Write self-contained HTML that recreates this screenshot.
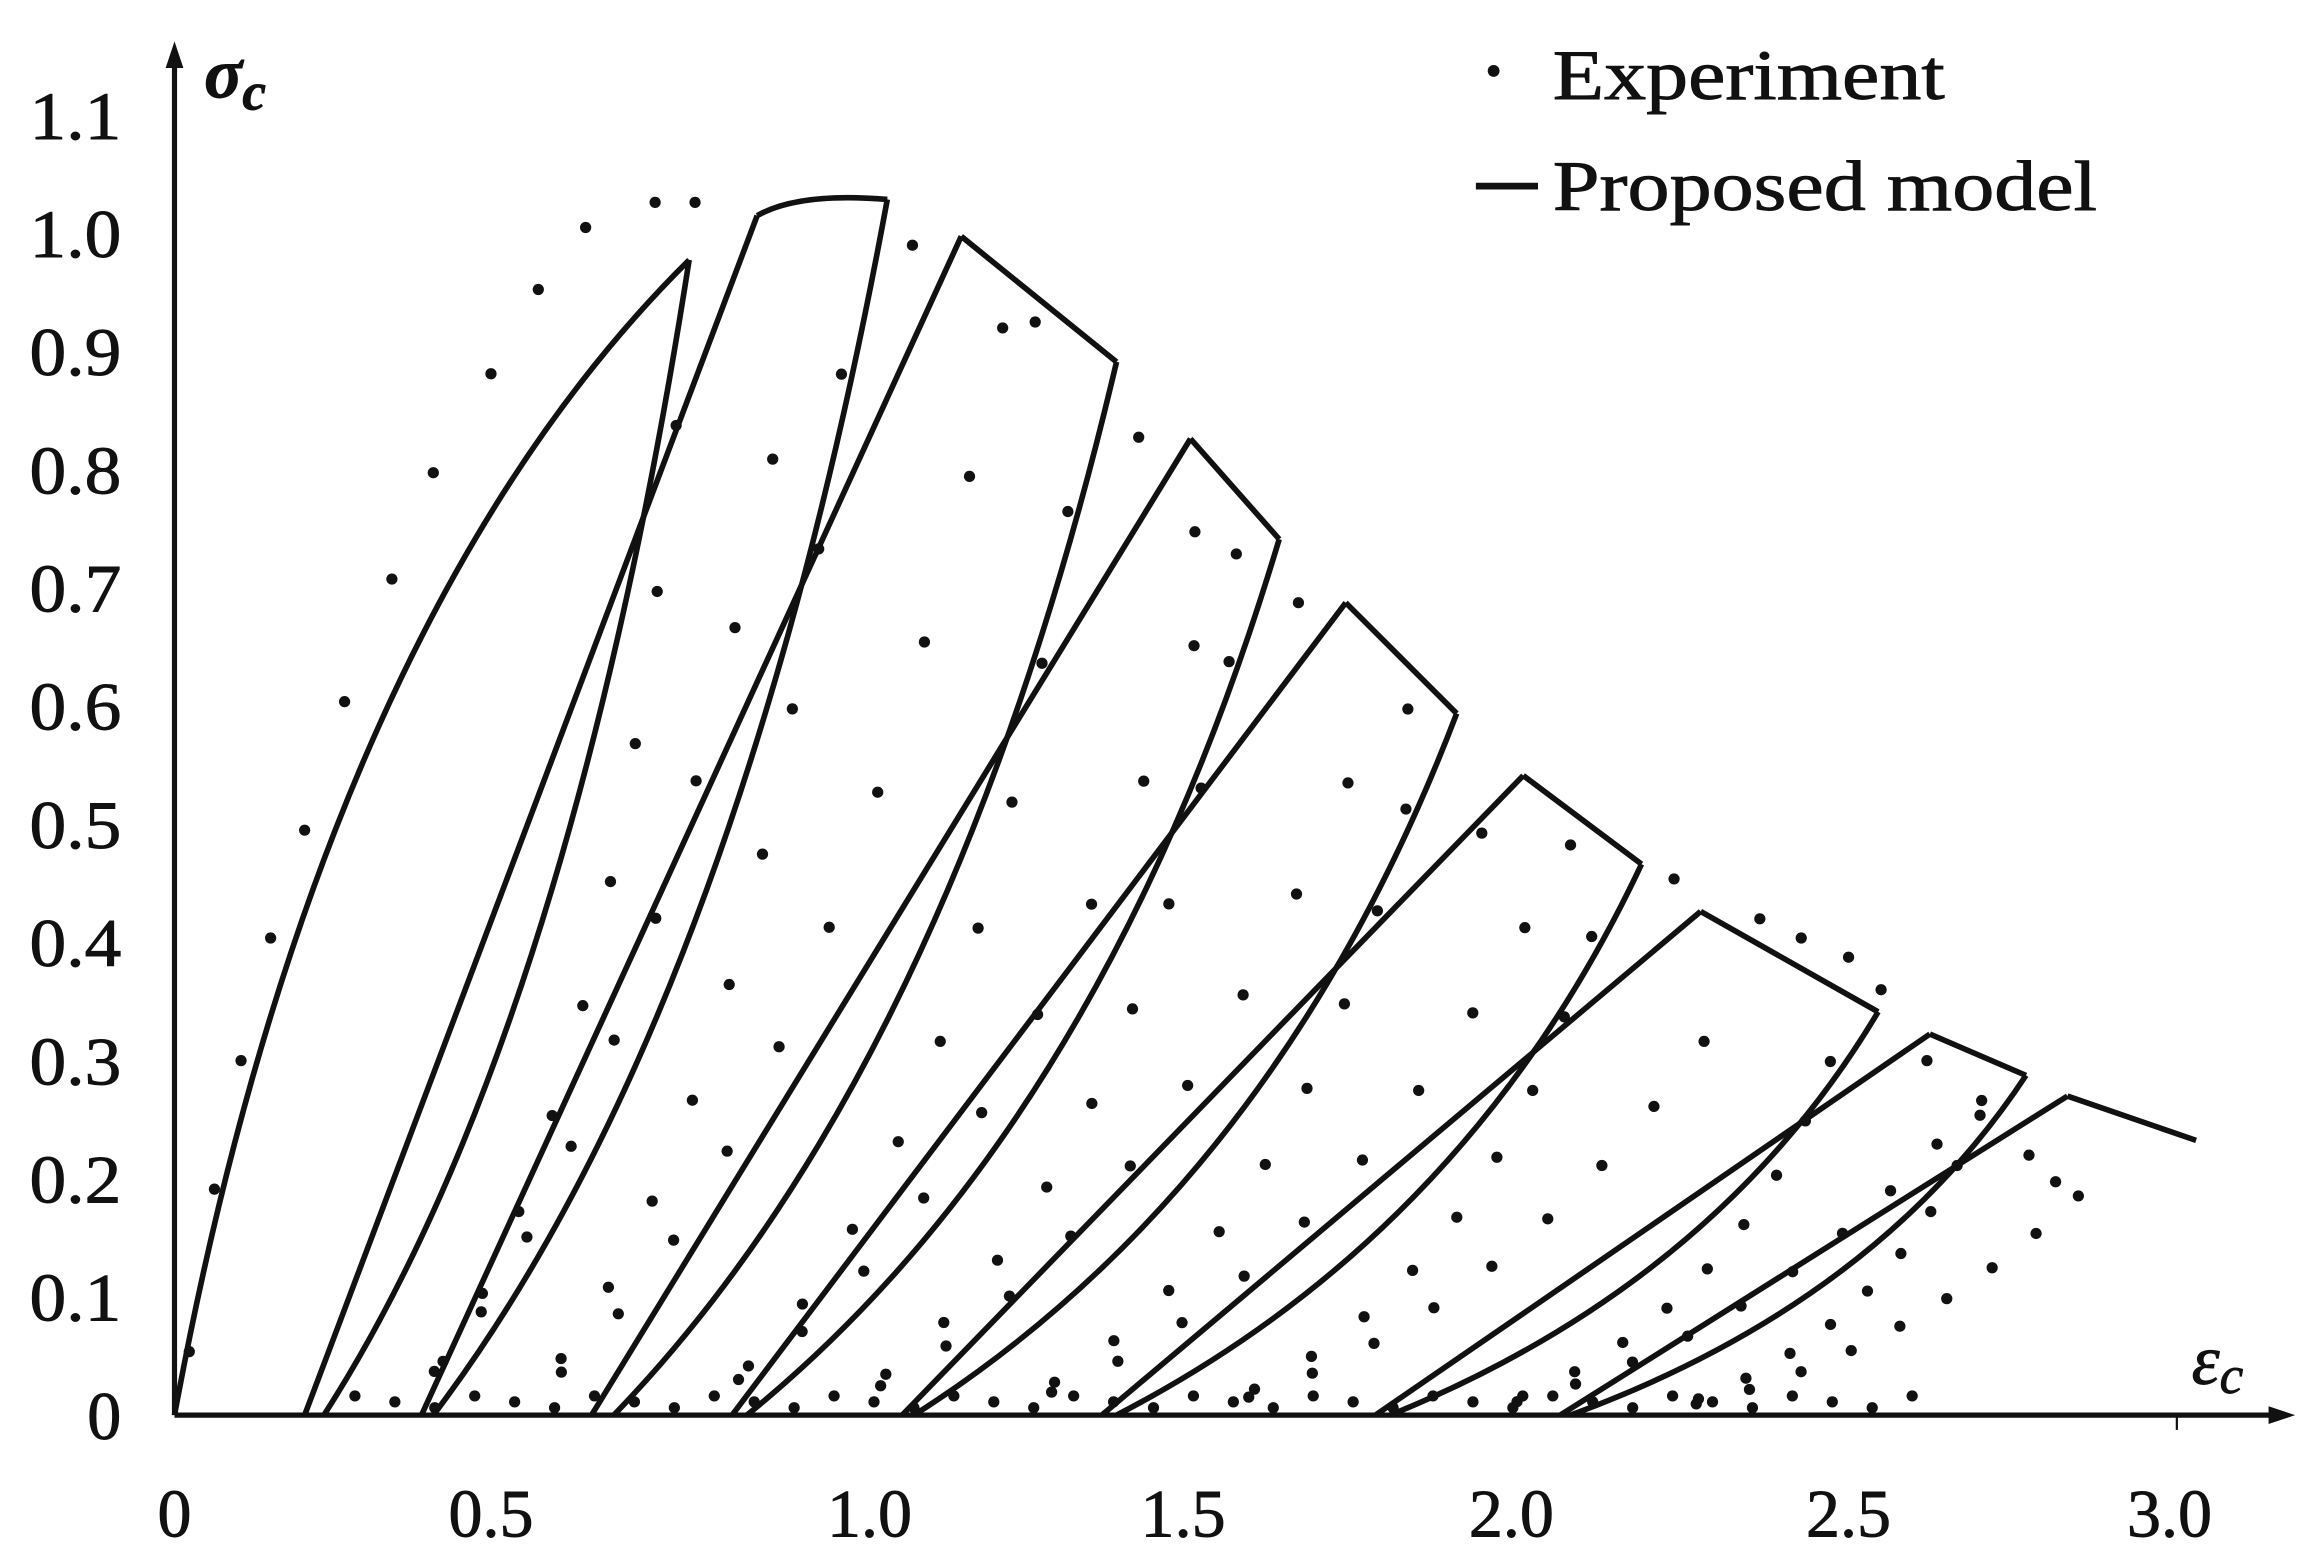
<!DOCTYPE html>
<html><head><meta charset="utf-8"><style>
html,body{margin:0;padding:0;background:#fff;}
svg{display:block;}
text{font-family:"Liberation Serif",serif;fill:#111;stroke:#111;stroke-width:0.6;}
</style></head><body>
<svg id="s" width="2307" height="1554" viewBox="0 0 1560 1052" preserveAspectRatio="none" xmlns="http://www.w3.org/2000/svg">
<rect width="1560" height="1052" fill="#fff"/>
<g stroke="#111" stroke-width="3.5" fill="none">
<line x1="118" y1="958" x2="118" y2="38"/>
<line x1="118" y1="958" x2="1540" y2="958"/>
<line x1="1472" y1="958" x2="1472" y2="968" stroke-width="1.5"/>
</g>
<polygon points="118,28 112,46 124,46" fill="#111"/>
<polygon points="1552,958 1534,952 1534,964" fill="#111"/>
<g id="curves" stroke="#111" stroke-width="3.8" fill="none" stroke-linejoin="round"></g>
<g id="dots" fill="#111"></g>
<g font-size="46" text-anchor="end">
<text x="82" y="94" textLength="62" lengthAdjust="spacingAndGlyphs">1.1</text><text x="82" y="174" textLength="62" lengthAdjust="spacingAndGlyphs">1.0</text><text x="82" y="254" textLength="62" lengthAdjust="spacingAndGlyphs">0.9</text>
<text x="82" y="334" textLength="62" lengthAdjust="spacingAndGlyphs">0.8</text><text x="82" y="414" textLength="62" lengthAdjust="spacingAndGlyphs">0.7</text><text x="82" y="494" textLength="62" lengthAdjust="spacingAndGlyphs">0.6</text>
<text x="82" y="574" textLength="62" lengthAdjust="spacingAndGlyphs">0.5</text><text x="82" y="654" textLength="62" lengthAdjust="spacingAndGlyphs">0.4</text><text x="82" y="734" textLength="62" lengthAdjust="spacingAndGlyphs">0.3</text>
<text x="82" y="814" textLength="62" lengthAdjust="spacingAndGlyphs">0.2</text><text x="82" y="894" textLength="62" lengthAdjust="spacingAndGlyphs">0.1</text><text x="82" y="974">0</text>
</g>
<g font-size="46" text-anchor="middle">
<text x="118" y="1040">0</text><text x="332" y="1040">0.5</text><text x="588" y="1040">1.0</text>
<text x="800" y="1040">1.5</text><text x="1022" y="1040">2.0</text><text x="1250" y="1040">2.5</text>
<text x="1467" y="1040">3.0</text>
</g>
<text x="138" y="66" font-size="48" font-style="italic" font-weight="bold">σ<tspan font-size="36" dy="8">c</tspan></text>
<text x="1482" y="937" font-size="48" font-style="italic">ε<tspan font-size="36" dy="6">c</tspan></text>
<circle cx="1010" cy="48" r="4" fill="#111"/>
<text x="1050" y="67" font-size="48" textLength="265" lengthAdjust="spacingAndGlyphs">Experiment</text>
<line x1="998" y1="126" x2="1040" y2="126" stroke="#111" stroke-width="4.5"/>
<text x="1050" y="142" font-size="48" textLength="368" lengthAdjust="spacingAndGlyphs">Proposed model</text>
</svg>
<script>
var B=958;
var S=[[466,176],[512,146],[650,160],[805,297],[910,408],[1030,525],[1150,617],[1305,700],[1398,742]];
var E=[[466,176],[600,135],[755,245],[865,365],[985,483],[1110,585],[1270,685],[1370,728],[1485,772]];
var bases=[[206,219],[285,293],[400,415],[495,505],[610,618],[745,755],[930,940],[1055,1062]];
var g=document.getElementById('curves'),d=document.getElementById('dots');
function P(s){var p=document.createElementNS('http://www.w3.org/2000/svg','path');p.setAttribute('d',s);g.appendChild(p);}
function D(x,y){var c=document.createElementNS('http://www.w3.org/2000/svg','circle');c.setAttribute('cx',x.toFixed(1));c.setAttribute('cy',y.toFixed(1));c.setAttribute('r','3.8');d.appendChild(c);}
P('M118,958 C160,730 250,390 466,176');
P('M512,146 Q540,130 600,135');
for(var i=2;i<9;i++)P('M'+S[i][0]+','+S[i][1]+' L'+E[i][0]+','+E[i][1]);
function q(a,c,b,t){return [(1-t)*(1-t)*a[0]+2*t*(1-t)*c[0]+t*t*b[0],(1-t)*(1-t)*a[1]+2*t*(1-t)*c[1]+t*t*b[1]];}
for(var i=0;i<8;i++){
 var p=E[i],b=bases[i][1],w=p[0]-b,h=B-p[1];
 var c=[p[0]-0.33*w,B-0.33*h];
 P('M'+p[0]+','+p[1]+' Q'+c[0]+','+c[1]+' '+b+','+B);
 P('M'+bases[i][0]+','+B+' L'+S[i+1][0]+','+S[i+1][1]);
 var pe=[p[0]-10+ (i>0?-20:0),p[1]-10],be=b+40,ce=[pe[0]-0.25*(pe[0]-be),B-0.2*(B-pe[1])];
 for(var k=1;k<=9;k++){var r=q(pe,ce,[be,B],k/10);D(r[0]+12,r[1]);}
 var s=S[i+1],b0=bases[i][0]+30,c2=[b0+0.6*(s[0]-b0),B-0.15*(B-s[1])];
 for(var k=1;k<=9;k++){var r=q([b0,B],c2,[s[0]+10,s[1]+40],k/10);D(r[0]+25,r[1]);}
}
var env=[[128,915],[145,805],[163,718],[183,635],[206,562],[233,475],[265,392],[293,320],[332,253],[364,196],[396,154],[443,137],[470,137],[617,166],[678,222],[700,218],[770,296],[808,360],[836,375],[878,408],[952,480],[1002,564],[1062,572],[1132,595],[1190,622],[1218,635],[1250,648],[1272,670],[1303,718],[1340,745],[1372,782],[1390,800]];
env.forEach(function(e){D(e[0],e[1]);});
for(var k=0;k<40;k++){D(240+k*27,945+(k%3)*4);}
</script>
</body></html>
